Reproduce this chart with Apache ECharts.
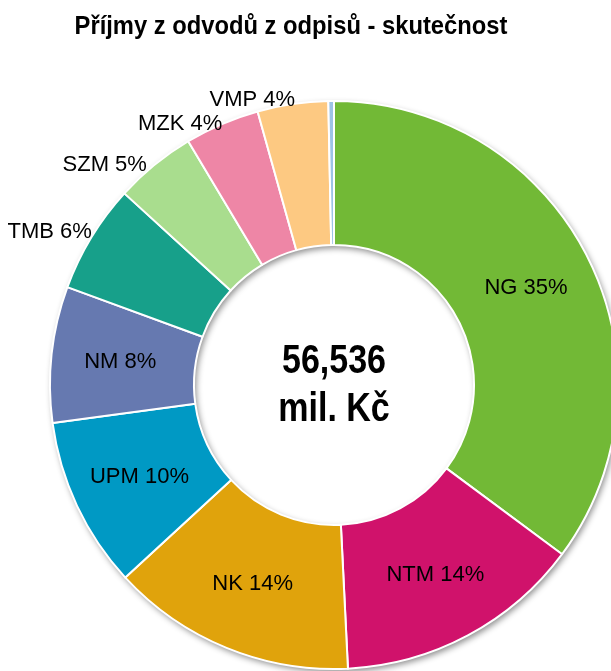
<!DOCTYPE html>
<html>

<head>
    <meta charset="utf-8">
    <script src="https://cdn.jsdelivr.net/npm/echarts@6/dist/echarts.min.js"></script>
    <style>
        html, body, div {
            width: 100%;
            height: 100%;
            margin: 0px;
            background: #fff;
        }
    </style>
</head>

<body>
    <div id="chart"></div>
    <script>
        // příjmy v mil. Kč (odhad z obrázku)
        var names = ['NG', 'NTM', 'NK', 'UPM', 'NM', 'TMB', 'SZM', 'MZK', 'VMP', 'Ostatní'];
        var values = [19876, 7950, 7870, 5500, 4370, 3500, 2620, 2400, 2270, 180];
        var colors = ['#72b936', '#d0126b', '#e0a30c', '#0099c4', '#6679b0', '#17a08a', '#a9dd8e', '#ee86a6', '#fdc982', '#9dc3e6'];
        var outsideLabels = ['TMB', 'SZM', 'MZK', 'VMP'];
        // posun vnějších popisků, aby seděly jako v Excelu
        var labelShift = { TMB: [9, -3], SZM: [0, 3], MZK: [7, 4], VMP: [8, 0] };

        var font = '"Liberation Sans", Arial, sans-serif';
        var total = values.reduce(function (a, b) { return a + b; }, 0);

        var data = names.map(function (n, i) {
            var item = { name: n, value: values[i], itemStyle: { color: colors[i] } };
            if (outsideLabels.indexOf(n) >= 0) {
                item.label = { position: 'outside' };
            }
            if (n === 'Ostatní') {
                item.label = { show: false };
            }
            return item;
        });

        var myChart = echarts.init(document.getElementById('chart'));
        var option = {
            animation: false,
            // úzké písmo jako v Excelu -> scaleX
            graphic: [{
                type: 'text',
                x: 291,
                y: 27,
                scaleX: 0.95,
                style: {
                    text: 'Příjmy z odvodů z odpisů - skutečnost',
                    font: 'bold 25px ' + font,
                    textAlign: 'center',
                    textVerticalAlign: 'middle',
                    fill: '#000',
                },
            }, {
                type: 'text',
                x: 334,
                y: 386,
                scaleX: 0.83,
                z: 100,
                style: {
                    text: total.toLocaleString('en-US') + '\nmil. Kč',
                    font: 'bold 41px ' + font,
                    lineHeight: 48,
                    textAlign: 'center',
                    textVerticalAlign: 'middle',
                    fill: '#000',
                },
            }],
            series: [{
                // stín pod prstencem
                type: 'pie',
                silent: true,
                center: [334, 385],
                radius: [140, 284],
                label: { show: false },
                itemStyle: {
                    color: '#fff',
                    shadowBlur: 6,
                    shadowOffsetX: 2,
                    shadowOffsetY: 3,
                    shadowColor: 'rgba(0,0,0,0.45)',
                },
                data: [{ value: 1 }],
            }, {
                type: 'pie',
                center: [334, 385],
                radius: [140, 284],
                startAngle: 90,
                avoidLabelOverlap: false,
                itemStyle: {
                    borderColor: '#fff',
                    borderWidth: 2,
                },
                label: {
                    show: true,
                    position: 'inside',
                    fontFamily: font,
                    fontSize: 22,
                    color: '#000',
                    formatter: function (p) {
                        return p.name + ' ' + Math.round(p.percent) + '%';
                    },
                },
                labelLine: {
                    show: false,
                    length: 4,
                    length2: 0,
                },
                labelLayout: function (p) {
                    var s = labelShift[names[p.dataIndex]];
                    if (s) {
                        return { dx: s[0], dy: s[1], hideOverlap: false };
                    }
                    return { hideOverlap: false };
                },
                data: data,
            }],
        };
        option && myChart.setOption(option);
    </script>
</body>

</html>
